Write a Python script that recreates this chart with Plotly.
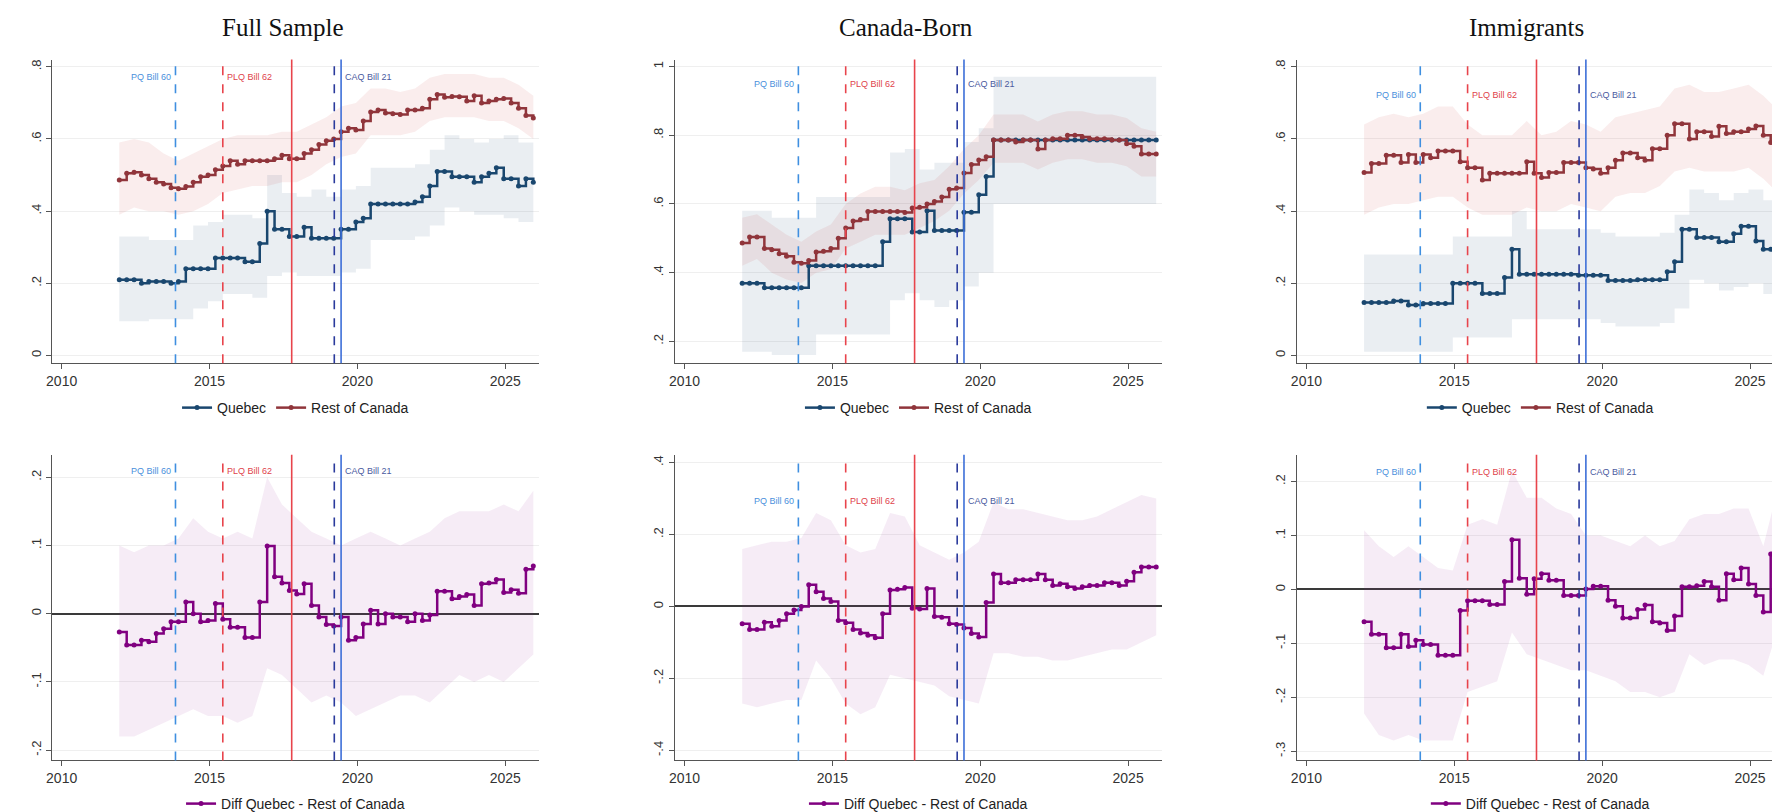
import numpy as np
import plotly.graph_objects as go

# quarterly points for the estimates, half-year points for the confidence bands
quarters = np.round(np.arange(2011.95, 2026.0, 0.25), 2)
halfyears = np.round(np.arange(2011.95, 2026.0, 0.5), 2)

# ---- Full sample ----
full_qc = [0.21, 0.21, 0.21, 0.20, 0.205, 0.205, 0.205, 0.20, 0.205,
           0.24, 0.24, 0.24, 0.24, 0.27, 0.27, 0.27, 0.27, 0.26, 0.26, 0.31,
           0.40, 0.35, 0.35, 0.33, 0.33, 0.355, 0.325, 0.325, 0.325, 0.325,
           0.35, 0.35, 0.37, 0.38, 0.42, 0.42, 0.42, 0.42, 0.42, 0.42, 0.425,
           0.44, 0.47, 0.51, 0.51, 0.495, 0.495, 0.495, 0.48, 0.495, 0.505,
           0.52, 0.49, 0.49, 0.47, 0.49, 0.48]
full_roc = [0.486, 0.505, 0.508, 0.50, 0.49, 0.48, 0.475, 0.465, 0.462,
            0.468, 0.48, 0.495, 0.50, 0.515, 0.525, 0.54, 0.53, 0.54, 0.54, 0.54,
            0.54, 0.545, 0.555, 0.545, 0.545, 0.56, 0.57, 0.585, 0.595, 0.60,
            0.62, 0.63, 0.625, 0.65, 0.675, 0.68, 0.672, 0.67, 0.668, 0.68, 0.68,
            0.685, 0.71, 0.723, 0.716, 0.718, 0.717, 0.705, 0.72, 0.70, 0.705,
            0.71, 0.712, 0.70, 0.685, 0.665, 0.658]
full_diff = [-0.027, -0.046, -0.046, -0.039, -0.041, -0.029, -0.022, -0.012, -0.012,
             0.017, 0.0, -0.012, -0.01, 0.015, -0.008, -0.02, -0.02, -0.035, -0.035, 0.017,
             0.099, 0.054, 0.045, 0.034, 0.029, 0.044, 0.012, -0.005, -0.016, -0.018,
             -0.005, -0.039, -0.035, -0.015, 0.005, -0.015, 0.0, -0.005, -0.005, -0.012, 0.0,
             -0.01, -0.002, 0.033, 0.033, 0.022, 0.025, 0.028, 0.012, 0.044, 0.045,
             0.05, 0.031, 0.035, 0.03, 0.065, 0.07]
full_qc_lo = [0.095, 0.095, 0.10, 0.10, 0.10, 0.13, 0.15, 0.17, 0.17, 0.16,
              0.22, 0.23, 0.22, 0.22, 0.22, 0.23, 0.24, 0.32, 0.32, 0.32,
              0.33, 0.36, 0.41, 0.40, 0.39, 0.39, 0.38, 0.37, 0.38]
full_qc_hi = [0.33, 0.33, 0.32, 0.32, 0.32, 0.36, 0.37, 0.39, 0.39, 0.38,
              0.50, 0.45, 0.44, 0.46, 0.44, 0.46, 0.47, 0.52, 0.52, 0.52,
              0.53, 0.57, 0.61, 0.60, 0.59, 0.60, 0.61, 0.59, 0.60]
full_roc_lo = [0.39, 0.41, 0.40, 0.40, 0.39, 0.40, 0.42, 0.45, 0.46, 0.47,
               0.47, 0.48, 0.48, 0.50, 0.53, 0.55, 0.56, 0.61, 0.61, 0.61,
               0.62, 0.65, 0.66, 0.66, 0.66, 0.65, 0.65, 0.63, 0.60]
full_roc_hi = [0.59, 0.60, 0.59, 0.56, 0.54, 0.56, 0.58, 0.60, 0.61, 0.61,
               0.61, 0.62, 0.62, 0.64, 0.66, 0.69, 0.70, 0.74, 0.74, 0.73,
               0.74, 0.77, 0.78, 0.78, 0.78, 0.77, 0.77, 0.75, 0.72]
full_diff_lo = [-0.18, -0.18, -0.17, -0.16, -0.15, -0.14, -0.15, -0.15, -0.16, -0.15,
                -0.08, -0.09, -0.11, -0.13, -0.12, -0.13, -0.15, -0.14, -0.13, -0.12,
                -0.12, -0.13, -0.11, -0.09, -0.10, -0.09, -0.10, -0.08, -0.06]
full_diff_hi = [0.10, 0.09, 0.10, 0.10, 0.11, 0.14, 0.12, 0.11, 0.12, 0.11,
                0.20, 0.16, 0.14, 0.12, 0.11, 0.10, 0.11, 0.12, 0.11, 0.10,
                0.11, 0.12, 0.14, 0.15, 0.15, 0.15, 0.16, 0.15, 0.18]

# ---- Canada-born ----
cb_qc = [0.369, 0.369, 0.369, 0.356, 0.356, 0.356, 0.356, 0.356, 0.356,
         0.42, 0.42, 0.42, 0.42, 0.42, 0.42, 0.42, 0.42, 0.42, 0.42, 0.49,
         0.557, 0.557, 0.557, 0.518, 0.518, 0.58, 0.523, 0.523, 0.523, 0.523,
         0.576, 0.576, 0.627, 0.68, 0.786, 0.786, 0.786, 0.786, 0.786, 0.786, 0.786,
         0.786, 0.786, 0.786, 0.786, 0.786, 0.786, 0.786, 0.786, 0.786, 0.786,
         0.786, 0.786, 0.786, 0.786, 0.786, 0.786]
cb_roc = [0.486, 0.504, 0.504, 0.47, 0.467, 0.455, 0.448, 0.43, 0.427,
          0.435, 0.46, 0.462, 0.47, 0.50, 0.53, 0.55, 0.555, 0.578, 0.578, 0.578,
          0.578, 0.578, 0.575, 0.588, 0.59, 0.60, 0.607, 0.62, 0.643, 0.646,
          0.69, 0.715, 0.728, 0.737, 0.786, 0.786, 0.786, 0.78, 0.786, 0.786, 0.76,
          0.786, 0.79, 0.79, 0.80, 0.80, 0.795, 0.79, 0.79, 0.79, 0.786,
          0.786, 0.775, 0.768, 0.745, 0.745, 0.745]
cb_diff = [-0.048, -0.064, -0.064, -0.044, -0.055, -0.039, -0.02, -0.01, 0.0,
           0.06, 0.041, 0.022, 0.014, -0.039, -0.045, -0.064, -0.074, -0.08, -0.087, -0.02,
           0.046, 0.048, 0.053, -0.005, -0.007, 0.05, -0.028, -0.03, -0.048, -0.05,
           -0.06, -0.075, -0.085, 0.011, 0.09, 0.066, 0.066, 0.074, 0.074, 0.074, 0.09,
           0.074, 0.058, 0.063, 0.055, 0.05, 0.055, 0.058, 0.058, 0.066, 0.066,
           0.058, 0.07, 0.095, 0.11, 0.11, 0.11]
cb_qc_lo = [0.17, 0.17, 0.16, 0.16, 0.16, 0.22, 0.22, 0.22, 0.22, 0.22,
            0.32, 0.34, 0.32, 0.30, 0.32, 0.36, 0.40, 0.60, 0.60, 0.60,
            0.60, 0.60, 0.60, 0.60, 0.60, 0.60, 0.60, 0.60, 0.60]
cb_qc_hi = [0.58, 0.58, 0.56, 0.56, 0.56, 0.62, 0.62, 0.62, 0.62, 0.62,
            0.75, 0.76, 0.70, 0.72, 0.72, 0.78, 0.82, 0.97, 0.97, 0.97,
            0.97, 0.97, 0.97, 0.97, 0.97, 0.97, 0.97, 0.97, 0.97]
cb_roc_lo = [0.42, 0.44, 0.40, 0.38, 0.37, 0.40, 0.41, 0.47, 0.49, 0.51,
             0.51, 0.51, 0.53, 0.55, 0.58, 0.63, 0.67, 0.72, 0.72, 0.72,
             0.70, 0.72, 0.73, 0.73, 0.72, 0.72, 0.71, 0.68, 0.68]
cb_roc_hi = [0.56, 0.57, 0.54, 0.51, 0.49, 0.52, 0.54, 0.60, 0.63, 0.65,
             0.65, 0.64, 0.66, 0.67, 0.71, 0.76, 0.80, 0.86, 0.86, 0.86,
             0.84, 0.86, 0.87, 0.87, 0.86, 0.86, 0.85, 0.82, 0.81]
cb_diff_lo = [-0.27, -0.28, -0.27, -0.26, -0.26, -0.15, -0.20, -0.27, -0.30, -0.28,
              -0.19, -0.20, -0.21, -0.22, -0.25, -0.26, -0.27, -0.13, -0.13, -0.14,
              -0.14, -0.15, -0.15, -0.14, -0.13, -0.12, -0.12, -0.10, -0.08]
cb_diff_hi = [0.16, 0.17, 0.18, 0.18, 0.19, 0.26, 0.24, 0.17, 0.15, 0.16,
              0.26, 0.25, 0.17, 0.15, 0.13, 0.15, 0.18, 0.29, 0.27, 0.27,
              0.26, 0.25, 0.24, 0.24, 0.25, 0.27, 0.29, 0.31, 0.30]

# ---- Immigrants ----
imm_qc = [0.147, 0.147, 0.147, 0.147, 0.151, 0.151, 0.14, 0.14, 0.144,
          0.144, 0.144, 0.144, 0.20, 0.20, 0.20, 0.20, 0.172, 0.172, 0.172, 0.216,
          0.294, 0.225, 0.225, 0.225, 0.225, 0.225, 0.225, 0.225, 0.225, 0.222,
          0.222, 0.222, 0.222, 0.208, 0.208, 0.208, 0.208, 0.21, 0.21, 0.21, 0.21,
          0.232, 0.26, 0.35, 0.35, 0.327, 0.327, 0.327, 0.315, 0.315, 0.337,
          0.358, 0.358, 0.317, 0.294, 0.294, 0.31]
imm_roc = [0.507, 0.532, 0.532, 0.555, 0.555, 0.535, 0.557, 0.535, 0.557,
           0.548, 0.567, 0.567, 0.567, 0.537, 0.52, 0.52, 0.486, 0.505, 0.505, 0.505,
           0.505, 0.505, 0.537, 0.505, 0.493, 0.507, 0.507, 0.535, 0.535, 0.535,
           0.52, 0.517, 0.505, 0.52, 0.541, 0.561, 0.561, 0.548, 0.541, 0.573, 0.573,
           0.61, 0.642, 0.642, 0.60, 0.62, 0.62, 0.607, 0.635, 0.615, 0.62,
           0.62, 0.628, 0.636, 0.61, 0.59, 0.562]
imm_diff = [-0.06, -0.083, -0.083, -0.108, -0.108, -0.083, -0.106, -0.094, -0.102,
            -0.102, -0.122, -0.122, -0.122, -0.039, -0.021, -0.021, -0.021, -0.028, -0.028, 0.015,
            0.092, 0.021, -0.009, 0.02, 0.029, 0.017, 0.017, -0.011, -0.011, -0.011,
            0.001, 0.006, 0.006, -0.02, -0.031, -0.053, -0.053, -0.037, -0.029, -0.06, -0.062,
            -0.076, -0.049, 0.005, 0.005, 0.007, 0.015, 0.005, -0.02, 0.029, 0.018,
            0.04, 0.01, -0.011, -0.042, 0.066, 0.044]
imm_qc_lo = [0.01, 0.01, 0.01, 0.01, 0.01, 0.01, 0.05, 0.05, 0.05, 0.05,
             0.10, 0.10, 0.10, 0.10, 0.10, 0.10, 0.09, 0.08, 0.08, 0.08,
             0.09, 0.13, 0.21, 0.20, 0.18, 0.19, 0.20, 0.17, 0.18]
imm_qc_hi = [0.28, 0.28, 0.28, 0.28, 0.28, 0.28, 0.33, 0.33, 0.33, 0.33,
             0.40, 0.35, 0.35, 0.35, 0.35, 0.35, 0.34, 0.33, 0.33, 0.33,
             0.34, 0.39, 0.46, 0.45, 0.43, 0.45, 0.46, 0.43, 0.43]
imm_roc_lo = [0.39, 0.41, 0.42, 0.42, 0.43, 0.44, 0.44, 0.41, 0.39, 0.39,
              0.39, 0.41, 0.40, 0.40, 0.42, 0.41, 0.40, 0.44, 0.45, 0.45,
              0.47, 0.51, 0.52, 0.51, 0.51, 0.51, 0.52, 0.49, 0.45]
imm_roc_hi = [0.64, 0.66, 0.67, 0.66, 0.67, 0.69, 0.69, 0.64, 0.61, 0.61,
              0.61, 0.65, 0.61, 0.62, 0.65, 0.64, 0.62, 0.66, 0.67, 0.68,
              0.69, 0.74, 0.75, 0.73, 0.73, 0.74, 0.75, 0.72, 0.68]
imm_diff_lo = [-0.23, -0.27, -0.28, -0.27, -0.28, -0.28, -0.28, -0.19, -0.18, -0.17,
               -0.08, -0.12, -0.13, -0.14, -0.15, -0.15, -0.16, -0.17, -0.19, -0.19,
               -0.20, -0.19, -0.12, -0.14, -0.13, -0.13, -0.14, -0.16, -0.07]
imm_diff_hi = [0.11, 0.08, 0.06, 0.08, 0.06, 0.04, 0.035, 0.12, 0.13, 0.12,
               0.22, 0.17, 0.17, 0.15, 0.14, 0.10, 0.10, 0.09, 0.08, 0.10,
               0.08, 0.09, 0.13, 0.14, 0.14, 0.15, 0.15, 0.08, 0.19]

# policy events
event_dates = [2013.85, 2015.45, 2017.78, 2019.22, 2019.45]
event_labels = ["PQ Bill 60", "PLQ Bill 62", "", "", "CAQ Bill 21"]
event_colors = ["#3f8fe0", "#e8444c", "#e8444c", "#2a3a9c", "#3d6fd8"]
event_dash = ["dash", "dash", "solid", "dash", "solid"]
label_colors = ["#4a90dc", "#e0434b", "", "", "#4a5aa0"]

col_titles = ["Full Sample", "Canada-Born", "Immigrants"]

BLUE = "#1a476f"
RED = "#90353b"
PURPLE = "#800080"
BLUE_BAND = "rgba(26,71,111,0.09)"
RED_BAND = "rgba(200,60,60,0.09)"
PURPLE_BAND = "rgba(160,40,160,0.09)"

# (name, estimate, lower, upper, line colour, band colour, band shape)
panels = [
    dict(series=[("Quebec", full_qc, full_qc_lo, full_qc_hi, BLUE, BLUE_BAND, "hv"),
                 ("Rest of Canada", full_roc, full_roc_lo, full_roc_hi, RED, RED_BAND, "linear")],
         yrange=[-0.022, 0.82], ticks=[0, 0.2, 0.4, 0.6, 0.8], lab_y=0.967),
    dict(series=[("Quebec", cb_qc, cb_qc_lo, cb_qc_hi, BLUE, BLUE_BAND, "hv"),
                 ("Rest of Canada", cb_roc, cb_roc_lo, cb_roc_hi, RED, RED_BAND, "linear")],
         yrange=[0.136, 1.02], ticks=[0.2, 0.4, 0.6, 0.8, 1], lab_y=0.944),
    dict(series=[("Quebec", imm_qc, imm_qc_lo, imm_qc_hi, BLUE, BLUE_BAND, "hv"),
                 ("Rest of Canada", imm_roc, imm_roc_lo, imm_roc_hi, RED, RED_BAND, "linear")],
         yrange=[-0.022, 0.82], ticks=[0, 0.2, 0.4, 0.6, 0.8], lab_y=0.908),
    dict(series=[("Diff Quebec - Rest of Canada", full_diff, full_diff_lo, full_diff_hi, PURPLE, PURPLE_BAND, "linear")],
         yrange=[-0.215, 0.233], ticks=[-0.2, -0.1, 0, 0.1, 0.2], lab_y=0.97),
    dict(series=[("Diff Quebec - Rest of Canada", cb_diff, cb_diff_lo, cb_diff_hi, PURPLE, PURPLE_BAND, "linear")],
         yrange=[-0.428, 0.422], ticks=[-0.4, -0.2, 0, 0.2, 0.4], lab_y=0.87),
    dict(series=[("Diff Quebec - Rest of Canada", imm_diff, imm_diff_lo, imm_diff_hi, PURPLE, PURPLE_BAND, "linear")],
         yrange=[-0.317, 0.25], ticks=[-0.3, -0.2, -0.1, 0, 0.1, 0.2], lab_y=0.967),
]

W, H = 1780, 812
col_px = [(38, 527), (663, 1152), (1287, 1776)]
row_px = [(52, 358), (450, 758)]
title_px = [270, 895, 1518]
legend_y = [1 - 403 / H, 1 - 802 / H]


def stata_label(v):
    """Stata style tick label: .2, -.1, 0, 1"""
    if v == 0:
        return "0"
    return f"{v:g}".replace("0.", ".")


fig = go.Figure()
layout = {}
shapes = []
annotations = []

for i, p in enumerate(panels, start=1):
    row, col = (0 if i <= 3 else 1), (i - 1) % 3
    sfx = "" if i == 1 else str(i)
    xa, ya, leg = "x" + sfx, "y" + sfx, "legend" + sfx

    for name, vals, lo, hi, color, band, bshape in p["series"]:
        fig.add_trace(go.Scatter(x=halfyears, y=lo, xaxis=xa, yaxis=ya, mode="lines",
                                 line=dict(width=0, shape=bshape), showlegend=False, hoverinfo="skip"))
        fig.add_trace(go.Scatter(x=halfyears, y=hi, xaxis=xa, yaxis=ya, mode="lines",
                                 line=dict(width=0, shape=bshape), fill="tonexty", fillcolor=band,
                                 showlegend=False, hoverinfo="skip"))
    for name, vals, lo, hi, color, band, bshape in p["series"]:
        fig.add_trace(go.Scatter(x=quarters, y=vals, xaxis=xa, yaxis=ya, name=name, legend=leg,
                                 mode="lines+markers", line=dict(color=color, width=2.5, shape="hv"),
                                 marker=dict(color=color, size=5)))

    x0, x1 = col_px[col]
    y0, y1 = row_px[row]
    layout["xaxis" + sfx] = dict(
        domain=[x0 / W, x1 / W], anchor=ya, range=[2009.67, 2026.15],
        tickvals=[2010, 2015, 2020, 2025], ticks="outside", ticklen=5, tickcolor="#555",
        showline=True, linecolor="#555", linewidth=1.2, showgrid=False, zeroline=False,
        tickfont=dict(family="Liberation Sans", size=14, color="#333"))
    layout["yaxis" + sfx] = dict(
        domain=[1 - y1 / H, 1 - y0 / H], anchor=xa, range=p["yrange"],
        tickvals=p["ticks"], ticktext=[stata_label(t) for t in p["ticks"]], tickangle=-90,
        ticks="outside", ticklen=5, tickcolor="#555", showline=True, linecolor="#555",
        linewidth=1.2, showgrid=True, gridcolor="#efefef", gridwidth=1,
        zeroline=(row == 1), zerolinecolor="#3a3a3a", zerolinewidth=1.5,
        tickfont=dict(family="Liberation Sans", size=13, color="#333"))
    layout[leg] = dict(orientation="h", x=(x0 + x1) / 2 / W, xanchor="center",
                       y=legend_y[row], yanchor="middle", bgcolor="rgba(0,0,0,0)",
                       traceorder="normal",
                       font=dict(family="Liberation Sans", size=14, color="#222"))

    for d, lab, c, dash, lc in zip(event_dates, event_labels, event_colors, event_dash, label_colors):
        shapes.append(dict(type="line", xref=xa, x0=d, x1=d, yref=ya + " domain", y0=0, y1=1,
                           line=dict(color=c, width=1.6, dash=dash)))
        if lab:
            right = lab.startswith("PQ")
            annotations.append(dict(
                x=d, xref=xa, y=p["lab_y"], yref=ya + " domain", text=lab, showarrow=False,
                xanchor="right" if right else "left", xshift=-2 if right else 2,
                font=dict(family="Liberation Sans", size=9, color=lc)))

for t, cx in zip(col_titles, title_px):
    annotations.append(dict(x=cx / W, xref="paper", y=1 - 20 / H, yref="paper", text=t,
                            showarrow=False, xanchor="center", yanchor="middle",
                            font=dict(family="Liberation Serif", size=25, color="#111")))

fig.update_layout(**layout)
fig.update_layout(width=W, height=H, margin=dict(l=0, r=0, t=0, b=0),
                  plot_bgcolor="white", paper_bgcolor="white",
                  shapes=shapes, annotations=annotations)

fig.write_html("out.html")
